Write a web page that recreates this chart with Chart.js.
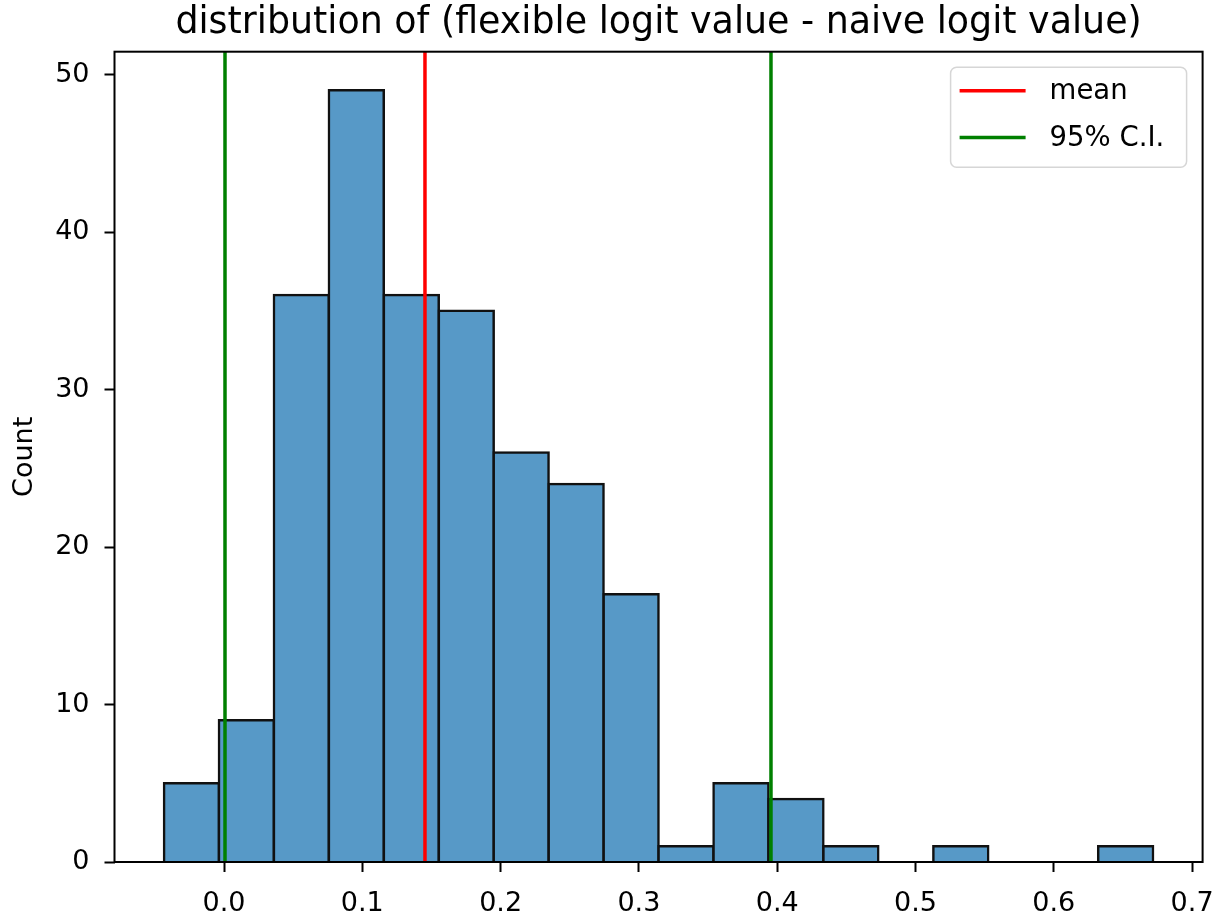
<!DOCTYPE html>
<html><head><meta charset="utf-8">
<script src="https://cdn.jsdelivr.net/npm/chart.js@4.4.0/dist/chart.umd.min.js"></script>
<style>html,body{margin:0;padding:0;background:#fff}</style>
</head><body>
<canvas id="c" width="1225" height="918"></canvas>
<script>
// ---- data ----
const binEdges = [-0.0434, -0.0037, 0.0360, 0.0758, 0.1155, 0.1553, 0.1950, 0.2347, 0.2745,
                  0.3142, 0.3539, 0.3937, 0.4334, 0.4731, 0.5129, 0.5526, 0.5924, 0.6321, 0.6718];
const binCounts = [5, 9, 36, 49, 36, 35, 26, 24, 17, 1, 5, 4, 1, 0, 1, 0, 0, 1];
const meanValue = 0.1453;
const ciLow = 0.0007;
const ciHigh = 0.3955;
const xTickValues = [0, 0.1, 0.2, 0.3, 0.4, 0.5, 0.6, 0.7];
const xTickLabels = ['0.0', '0.1', '0.2', '0.3', '0.4', '0.5', '0.6', '0.7'];
const yTickValues = [0, 10, 20, 30, 40, 50];
const xRange = [-0.0792, 0.7076];
const yRange = [0, 51.45];
const titleText = 'distribution of (flexible logit value - naive logit value)';
const yTitle = 'Count';

Chart.defaults.font.family = "'DejaVu Sans', sans-serif";
Chart.defaults.color = '#000';

const histData = binCounts.map((c, i) => ({x: (binEdges[i] + binEdges[i + 1]) / 2, y: c}));
const vline = v => [{x: v, y: yRange[0]}, {x: v, y: yRange[1]}];

const framePlugin = {
  id: 'frame',
  afterDatasetsDraw(chart) {
    const {ctx, chartArea: a} = chart;
    ctx.save();
    ctx.strokeStyle = '#000';
    ctx.lineWidth = 2;
    ctx.strokeRect(a.left, a.top, a.right - a.left, a.bottom - a.top);
    ctx.restore();
  }
};

const titlePlugin = {
  id: 'axesTitle',
  afterDraw(chart) {
    const {ctx, chartArea: a} = chart;
    ctx.save();
    ctx.font = "36.4px 'DejaVu Sans'";
    ctx.fillStyle = '#000';
    ctx.textAlign = 'center';
    ctx.textBaseline = 'alphabetic';
    ctx.fillText(titleText, (a.left + a.right) / 2, a.top - 18.5);
    ctx.restore();
  }
};

const legendPlugin = {
  id: 'boxLegend',
  afterDraw(chart) {
    const {ctx, chartArea: a} = chart;
    const items = chart.data.datasets.filter(d => d.showInLegend);
    const w = 236, h = 100;
    const x0 = a.right - 16 - w, y0 = a.top + 15.6;
    ctx.save();
    ctx.beginPath();
    ctx.roundRect(x0, y0, w, h, 6);
    ctx.fillStyle = 'rgba(255,255,255,0.8)';
    ctx.fill();
    ctx.strokeStyle = '#d6d6d6';
    ctx.lineWidth = 1.5;
    ctx.stroke();
    ctx.font = "27.5px 'DejaVu Sans'";
    ctx.textBaseline = 'middle';
    ctx.textAlign = 'left';
    items.forEach((d, i) => {
      const y = y0 + 23.5 + i * 46.7;
      ctx.beginPath();
      ctx.strokeStyle = d.borderColor;
      ctx.lineWidth = 3.5;
      ctx.moveTo(x0 + 9, y);
      ctx.lineTo(x0 + 75, y);
      ctx.stroke();
      ctx.fillStyle = '#000';
      ctx.fillText(d.label, x0 + 99, y + 1.5);
    });
    ctx.restore();
  }
};

new Chart(document.getElementById('c'), {
  type: 'bar',
  data: {
    datasets: [
      {type: 'line', label: 'mean', showInLegend: true, data: vline(meanValue), borderColor: '#ff0000',
       borderWidth: 3.5, pointRadius: 0, order: 0},
      {type: 'line', label: '95% C.I.', showInLegend: true, data: vline(ciLow), borderColor: '#008000',
       borderWidth: 3.5, pointRadius: 0, order: 0},
      {type: 'line', label: '95% C.I. (upper)', showInLegend: false, data: vline(ciHigh), borderColor: '#008000',
       borderWidth: 3.5, pointRadius: 0, order: 0},
      {type: 'bar', label: 'Count', data: histData, backgroundColor: '#5799c7', borderColor: '#111',
       borderWidth: 2.5, borderSkipped: 'start', inflateAmount: 1.25, barPercentage: 1, categoryPercentage: 1, order: 1}
    ]
  },
  options: {
    responsive: false,
    animation: false,
    devicePixelRatio: 1,
    layout: {padding: {left: 0, right: 22.4, top: 51.7, bottom: 0}},
    plugins: {
      legend: {display: false},
      tooltip: {enabled: false},
      title: {display: false}
    },
    scales: {
      x: {
        type: 'linear', min: xRange[0], max: xRange[1], offset: false,
        afterBuildTicks: s => { s.ticks = xTickValues.map(v => ({value: v})); },
        afterFit: s => { s.height = 56; s.paddingLeft = 0; s.paddingRight = 0; },
        ticks: {font: {size: 27}, color: '#000', padding: 16, maxRotation: 0,
                callback: (v) => xTickLabels[xTickValues.findIndex(t => Math.abs(t - v) < 1e-9)]},
        grid: {display: true, offset: false, drawOnChartArea: false, drawTicks: true, tickLength: 10, tickWidth: 2, tickColor: '#000', color: '#000'},
        border: {display: false}
      },
      y: {
        type: 'linear', min: yRange[0], max: yRange[1],
        afterBuildTicks: s => { s.ticks = yTickValues.map(v => ({value: v})); },
        afterFit: s => { s.width = 114.5; s.paddingTop = 0; s.paddingBottom = 0; },
        ticks: {font: {size: 27}, color: '#000', padding: 15},
        grid: {display: true, drawOnChartArea: false, drawTicks: true, tickLength: 10, tickWidth: 2, tickColor: '#000', color: '#000'},
        border: {display: false},
        title: {display: true, text: yTitle, font: {size: 27}, color: '#000', padding: {top: 9, bottom: 0}}
      }
    }
  },
  plugins: [framePlugin, titlePlugin, legendPlugin]
});
</script>
</body></html>
